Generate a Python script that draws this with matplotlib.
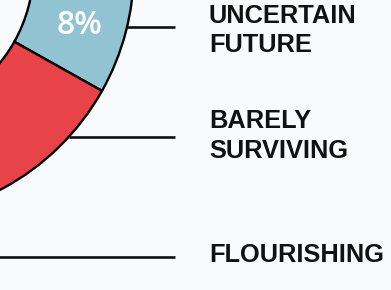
import matplotlib
matplotlib.use("Agg")
import matplotlib.pyplot as plt
import numpy as np

# Survey split (percent of respondents)
categories = ["UNCERTAIN\nFUTURE", "BARELY\nSURVIVING", "FLOURISHING"]
shares = [8, 36, 56]
colors = ["#92c3d3", "#e9434a", "#6fb98f"]

# Label rows (vertical positions of leader lines and text baselines, in px from top)
leader_y = [27, 137, 257]
line_baselines = [[22.7, 52.3], [128, 158], [262]]

W, H = 391, 290
bg = "#f9fafc"

fig = plt.figure(figsize=(W / 100, H / 100), dpi=100, facecolor=bg)
ax = fig.add_axes([0, 0, 1, 1])
ax.set_facecolor(bg)

center = (-115.6, 31.2)
R = 249.5
ring = 100.5

wedges, _ = ax.pie(
    shares,
    colors=colors,
    startangle=-0.5,
    counterclock=False,
    center=center,
    radius=R,
    wedgeprops=dict(width=ring, edgecolor="black", linewidth=1.7),
    frame=True,
)
ax.set_xlim(0, W)
ax.set_ylim(-H, 0)
ax.axis("off")

# percentage label in the middle of the first ring segment
w0 = wedges[0]
mid = np.deg2rad((w0.theta1 + w0.theta2) / 2)
r_mid = R - ring / 2 + 3
ax.text(center[0] + r_mid * np.cos(mid), center[1] + r_mid * np.sin(mid) - 0.5,
        f"{shares[0]}%", color="white", fontsize=23, fontweight="semibold",
        family="Open Sans", ha="center", va="center_baseline")

x_end = 175
text_x = 209
for lab, ly, bases in zip(categories, leader_y, line_baselines):
    dy = -ly - center[1]
    if abs(dy) < R:
        x0 = center[0] + np.sqrt(R ** 2 - dy ** 2)
    else:
        x0 = center[0]
    ax.plot([x0, x_end], [-ly, -ly], color="#111111", lw=1.9,
            solid_capstyle="butt")
    for line, b in zip(lab.split("\n"), bases):
        ax.text(text_x, -b, line, fontsize=18.3, fontweight="bold",
                family="Liberation Sans", color="#111111",
                ha="left", va="baseline")

fig.savefig("out.png", dpi=100, facecolor=bg)
